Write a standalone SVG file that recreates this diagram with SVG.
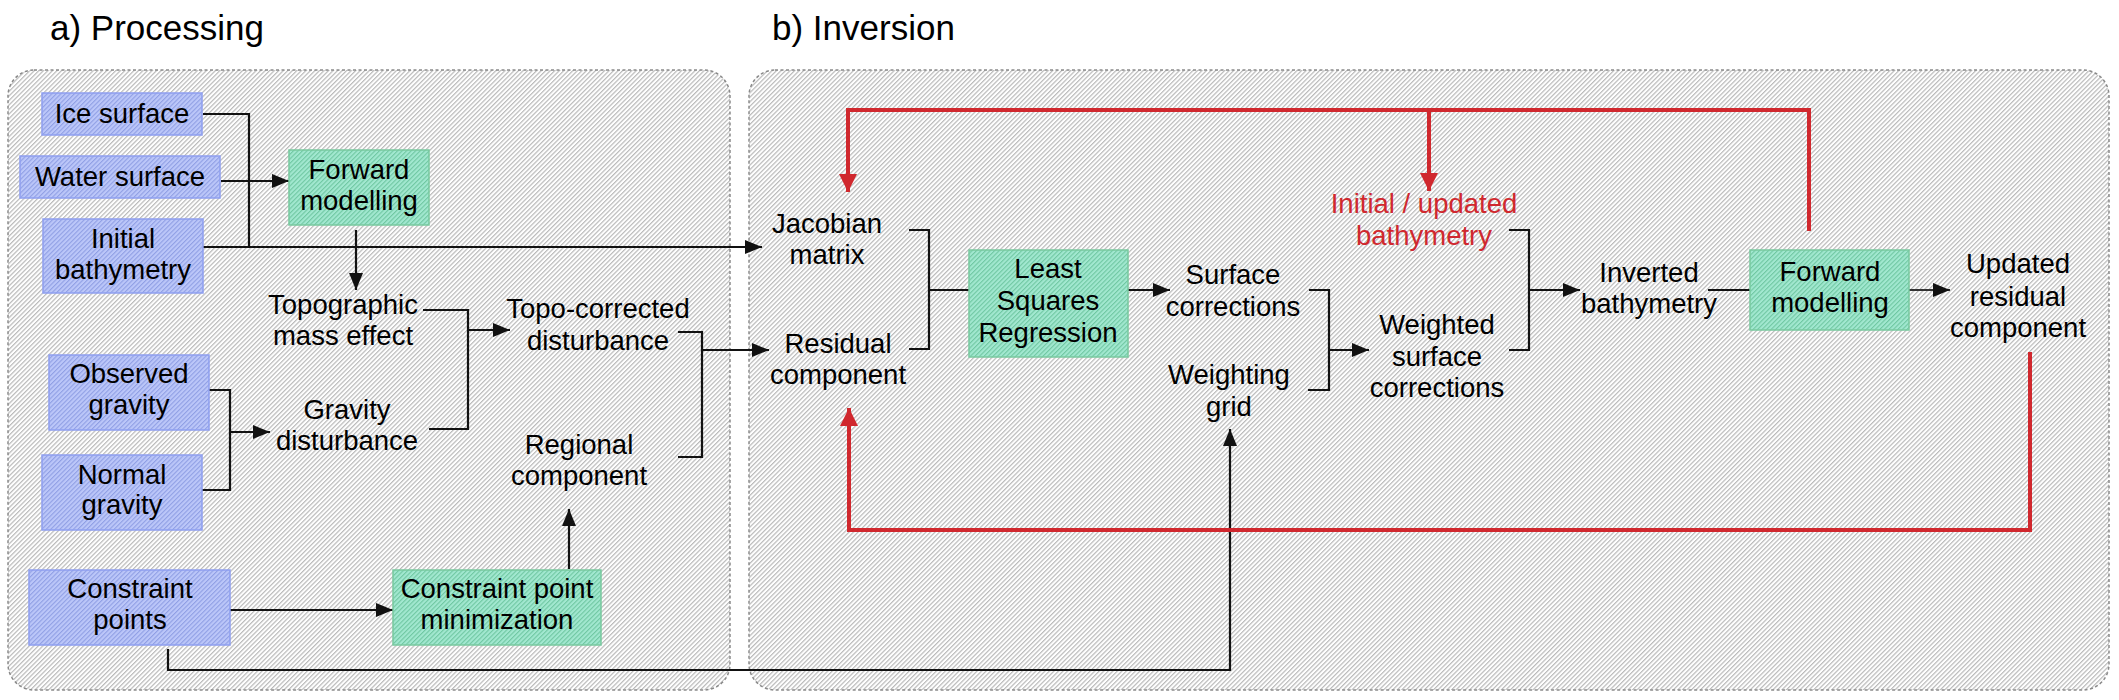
<svg xmlns="http://www.w3.org/2000/svg" width="2119" height="700" viewBox="0 0 2119 700">
<style>
text{font-family:"Liberation Sans",Arial,sans-serif;font-size:27.5px;fill:#000;text-anchor:middle}
.title{font-size:35px;text-anchor:start}
.red{fill:#d0282e}
.panel{fill:url(#hatchGray);stroke:#8a8a8a;stroke-width:1.5;stroke-dasharray:3 2.5}
.blue{fill:url(#hatchBlue);stroke:#8e9ff0;stroke-width:1.5}
.green{fill:url(#hatchGreen);stroke:#78c99f;stroke-width:1.5}
.conn{fill:none;stroke:#111;stroke-width:2.2}
.rconn{fill:none;stroke:#d0282e;stroke-width:4}
</style>
<defs>
<pattern id="hatchGray" patternUnits="userSpaceOnUse" width="3.2" height="10" patternTransform="rotate(45)">
<rect width="3.2" height="10" fill="#ffffff"/>
<rect width="1.2" height="10" fill="#bababa"/>
</pattern>
<pattern id="hatchBlue" patternUnits="userSpaceOnUse" width="3.2" height="10" patternTransform="rotate(45)">
<rect width="3.2" height="10" fill="#bcc7f9"/>
<rect width="1.1" height="10" fill="#909fe4"/>
</pattern>
<pattern id="hatchGreen" patternUnits="userSpaceOnUse" width="3.2" height="10" patternTransform="rotate(45)">
<rect width="3.2" height="10" fill="#a2e8d0"/>
<rect width="1.1" height="10" fill="#6fc7a2"/>
</pattern>
<marker id="arr" markerUnits="userSpaceOnUse" markerWidth="17" markerHeight="14" refX="17" refY="7" orient="auto">
<path d="M0,0 L17,7 L0,14 z" fill="#111"/>
</marker>
<marker id="rarr" markerUnits="userSpaceOnUse" markerWidth="18" markerHeight="18" refX="18" refY="9" orient="auto">
<path d="M0,0 L18,9 L0,18 z" fill="#d0282e"/>
</marker>
</defs>
<rect width="2119" height="700" fill="#fff"/>

<g id="panel-a">
<rect class="panel" x="8" y="70" width="722" height="620" rx="26"/>
<text class="title" x="50" y="40">a) Processing</text>
</g>
<g id="panel-b">
<rect class="panel" x="749" y="70" width="1360" height="620" rx="26"/>
<text class="title" x="772" y="40">b) Inversion</text>
</g>

<g id="connectors">
<path class="conn" d="M203,114 H249 V247"/>
<path class="conn" d="M199,247 H762" marker-end="url(#arr)"/>
<path class="conn" d="M221,181 H289" marker-end="url(#arr)"/>
<path class="conn" d="M356,230 V290" marker-end="url(#arr)"/>
<path class="conn" d="M423,310 H468 V429 H429"/>
<path class="conn" d="M468,330 H510" marker-end="url(#arr)"/>
<path class="conn" d="M209,390 H230 V490 H202"/>
<path class="conn" d="M230,432 H270" marker-end="url(#arr)"/>
<path class="conn" d="M678,332 H702 V457 H678"/>
<path class="conn" d="M702,350 H769" marker-end="url(#arr)"/>
<path class="conn" d="M230,610 H393" marker-end="url(#arr)"/>
<path class="conn" d="M569,569 V509" marker-end="url(#arr)"/>
<path class="conn" d="M168,649 V670 H1230 V429" marker-end="url(#arr)"/>
<path class="conn" d="M909,230 H929 V349 H909"/>
<path class="conn" d="M929,290 H969"/>
<path class="conn" d="M1128,290 H1170" marker-end="url(#arr)"/>
<path class="conn" d="M1309,290 H1329 V390 H1308"/>
<path class="conn" d="M1329,350 H1369" marker-end="url(#arr)"/>
<path class="conn" d="M1509,230 H1529 V350 H1509"/>
<path class="conn" d="M1529,290 H1580" marker-end="url(#arr)"/>
<path class="conn" d="M1708,290 H1750"/>
<path class="conn" d="M1909,290 H1950" marker-end="url(#arr)" style="stroke:#333"/>
<path class="rconn" d="M1809,231 V110 H848 V192" marker-end="url(#rarr)"/>
<path class="rconn" d="M1429,110 V191" marker-end="url(#rarr)"/>
<path class="rconn" d="M2030,352 V530 H849 V408" marker-end="url(#rarr)"/>
</g>

<g id="ice-surface">
<rect class="blue" x="42" y="93" width="160" height="42"/>
<text x="122" y="123">Ice surface</text>
</g>
<g id="water-surface">
<rect class="blue" x="20" y="156" width="200" height="42"/>
<text x="120" y="186">Water surface</text>
</g>
<g id="initial-bathymetry">
<rect class="blue" x="43" y="219" width="160" height="74"/>
<text x="123" y="248">Initial</text>
<text x="123" y="279">bathymetry</text>
</g>
<g id="forward-modelling-a">
<rect class="green" x="289" y="150" width="140" height="75"/>
<text x="359" y="179">Forward</text>
<text x="359" y="210">modelling</text>
</g>
<g id="topographic-mass-effect">
<text x="343" y="314">Topographic</text>
<text x="343" y="345">mass effect</text>
</g>
<g id="topo-corrected-disturbance">
<text x="598" y="318">Topo-corrected</text>
<text x="598" y="350">disturbance</text>
</g>
<g id="observed-gravity">
<rect class="blue" x="49" y="355" width="160" height="75"/>
<text x="129" y="383">Observed</text>
<text x="129" y="414">gravity</text>
</g>
<g id="normal-gravity">
<rect class="blue" x="42" y="455" width="160" height="75"/>
<text x="122" y="484">Normal</text>
<text x="122" y="514">gravity</text>
</g>
<g id="gravity-disturbance">
<text x="347" y="419">Gravity</text>
<text x="347" y="450">disturbance</text>
</g>
<g id="regional-component">
<text x="579" y="454">Regional</text>
<text x="579" y="485">component</text>
</g>
<g id="constraint-points">
<rect class="blue" x="29" y="570" width="201" height="75"/>
<text x="130" y="598">Constraint</text>
<text x="130" y="629">points</text>
</g>
<g id="constraint-point-minimization">
<rect class="green" x="393" y="570" width="208" height="75"/>
<text x="497" y="598">Constraint point</text>
<text x="497" y="629">minimization</text>
</g>

<g id="jacobian-matrix">
<text x="827" y="233">Jacobian</text>
<text x="827" y="264">matrix</text>
</g>
<g id="residual-component">
<text x="838" y="353">Residual</text>
<text x="838" y="384">component</text>
</g>
<g id="least-squares-regression">
<rect class="green" x="969" y="250" width="159" height="107"/>
<text x="1048" y="278">Least</text>
<text x="1048" y="310">Squares</text>
<text x="1048" y="342">Regression</text>
</g>
<g id="surface-corrections">
<text x="1233" y="284">Surface</text>
<text x="1233" y="316">corrections</text>
</g>
<g id="weighting-grid">
<text x="1229" y="384">Weighting</text>
<text x="1229" y="416">grid</text>
</g>
<g id="initial-updated-bathymetry">
<text class="red" x="1424" y="213">Initial / updated</text>
<text class="red" x="1424" y="245">bathymetry</text>
</g>
<g id="weighted-surface-corrections">
<text x="1437" y="334">Weighted</text>
<text x="1437" y="366">surface</text>
<text x="1437" y="397">corrections</text>
</g>
<g id="inverted-bathymetry">
<text x="1649" y="282">Inverted</text>
<text x="1649" y="313">bathymetry</text>
</g>
<g id="forward-modelling-b">
<rect class="green" x="1750" y="250" width="159" height="80"/>
<text x="1830" y="281">Forward</text>
<text x="1830" y="312">modelling</text>
</g>
<g id="updated-residual-component">
<text x="2018" y="273">Updated</text>
<text x="2018" y="306">residual</text>
<text x="2018" y="337">component</text>
</g>
</svg>
